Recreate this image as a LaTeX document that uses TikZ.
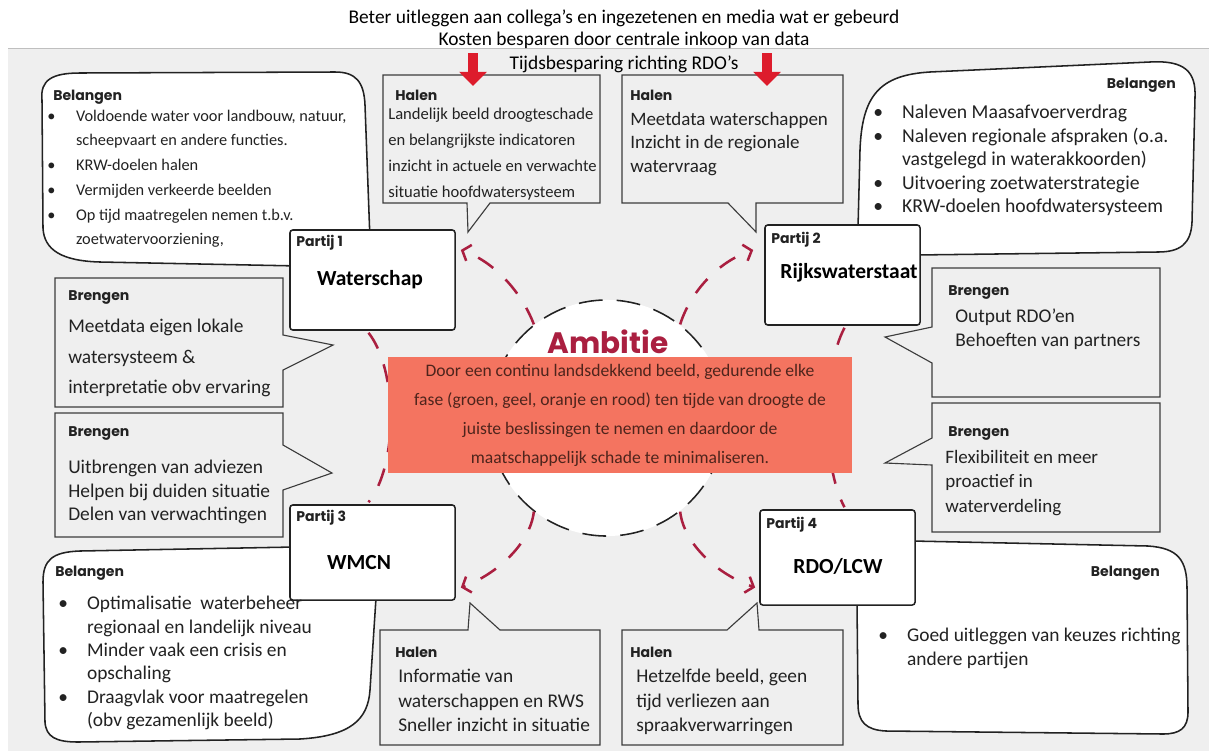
\documentclass[tikz,border=0pt]{standalone}
\usepackage{fontspec}
\setmainfont{Carlito}
\newfontfamily\handfont{Poppins}
\usetikzlibrary{arrows.meta,calc}
\definecolor{paper}{HTML}{EFEFEF}
\definecolor{ink}{HTML}{222222}
\definecolor{frame}{HTML}{3C3C3C}
\definecolor{wine}{HTML}{AA1F40}
\definecolor{signal}{HTML}{DD1C2C}
\definecolor{coral}{HTML}{F47460}
\definecolor{umber}{HTML}{4E241C}
\newcommand{\sz}[2]{\fontsize{#1}{#2}\selectfont}
\newcommand{\bl}{\makebox[0.72cm][l]{\textbullet}}
\newcommand{\ind}{\hspace*{0.72cm}}
\tikzset{party/.style = {draw = ink, fill = white, line width = 1.1pt, rounded corners = 2pt, inner sep = 0}}
\tikzset{blob/.style = {draw = ink, fill = white, line width = 1.1pt}}
\tikzset{callout/.style = {draw = frame, fill = paper, line width = 0.8pt}}
\tikzset{txt/.style = {inner sep = 0, anchor = north west, align = left, text = ink}}
\tikzset{hand/.style = {inner sep = 0, anchor = west, text = ink, font = \handfont\bfseries\sz{10}{12}}}
\tikzset{title/.style = {inner sep = 0, text = black, font = \bfseries\sz{15.3}{17}}}
\tikzset{link/.style = {draw = wine, line width = 1.8pt, dash pattern = on 13pt off 12pt, -{Straight Barb[length=5pt,width=12pt]}}}
\tikzset{ring/.style = {draw = wine, line width = 1.8pt, dash pattern = on 13pt off 12pt}}
\tikzset{push/.style = {draw = signal, line width = 6.5pt, -{Triangle[width=19pt,length=10pt]}}}

\begin{document}
\begin{tikzpicture}[x=0.025cm, y=-0.025cm]
\useasboundingbox (0,0) rectangle (1209,751);
\fill[paper] (8,48) rectangle (1209,751);
\draw[black!25, line width=0.6pt] (8,48) -- (1209,48);

\node[font=\sz{13.8}{16}] (t1) at (624,18) {Beter uitleggen aan collega's en ingezetenen en media wat er gebeurd};
\node[font=\sz{13.8}{16}] (t2) at (624,40) {Kosten besparen door centrale inkoop van data};
\node[font=\sz{13.8}{16}] (t3) at (624,64) {Tijdsbesparing richting RDO's};

\draw[blob] (42,100) .. controls (40,80) and (52,73) .. (80,73) -- (335,72) .. controls (356,72) and (364,82) .. (365,105) -- (370,240) -- (300,266) -- (100,262) .. controls (62,261) and (44,250) .. (43,228) -- cycle;
\draw[blob] (858,228) -- (860,150) .. controls (862,95) and (880,75) .. (930,72) -- (1150,62) .. controls (1185,60) and (1196,72) .. (1195,97) -- (1192,222) .. controls (1191,244) and (1180,252) .. (1158,252) -- (915,255) -- (900,240) -- cycle;
\draw[blob] (295,547) -- (80,551) .. controls (52,552) and (43,560) .. (43,582) -- (45,722) .. controls (46,737) and (56,742) .. (78,742) -- (300,739) .. controls (350,736) and (368,720) .. (370,690) -- (376,598) -- (300,590) -- cycle;
\draw[blob] (912,541) -- (1148,546) .. controls (1178,548) and (1187,560) .. (1187,588) -- (1188,712) .. controls (1188,728) and (1180,734) .. (1163,734) -- (886,731) .. controls (866,730) and (858,722) .. (858,704) -- (857,602) -- (900,590) -- cycle;

\draw[callout] (383,75) -- (600,75) -- (600,203) -- (490,203) -- (468,232) -- (467,203) -- (383,203) -- cycle;
\draw[callout] (622,75) -- (843,75) -- (843,203) -- (756,203) -- (756,232) -- (728,203) -- (622,203) -- cycle;
\draw[callout] (55,278) -- (283,278) -- (283,335) -- (333,345) -- (283,370) -- (283,407) -- (55,407) -- cycle;
\draw[callout] (55,413) -- (283,413) -- (283,445) -- (332,473) -- (283,490) -- (283,537) -- (55,537) -- cycle;
\draw[callout] (932,268) -- (1160,268) -- (1160,397) -- (932,397) -- (932,363) -- (885,337) -- (932,327) -- cycle;
\draw[callout] (932,403) -- (1160,403) -- (1160,532) -- (932,532) -- (932,465) -- (885,463) -- (932,438) -- cycle;
\draw[callout] (380,630) -- (468,630) -- (470,603) -- (500,630) -- (600,630) -- (600,745) -- (380,745) -- cycle;
\draw[callout] (622,630) -- (727,630) -- (757,603) -- (759,630) -- (843,630) -- (843,745) -- (622,745) -- cycle;

\coordinate (d1) at (473,86);
\coordinate (d2) at (767,86);

\node[party, minimum width=4.125cm, minimum height=2.5cm] (p1) at (372.5,280) {};
\node[party, minimum width=3.875cm, minimum height=2.5cm] (p2) at (842.5,275) {};
\node[party, minimum width=4.125cm, minimum height=2.375cm] (p3) at (372.5,552.5) {};
\node[party, minimum width=3.875cm, minimum height=2.375cm] (p4) at (837.5,557.5) {};

\draw[ring] ($(p1.south)+(-4,2)$) .. controls (398,370) and (398,466) .. ($(p3.north)+(-4,-2)$);
\draw[ring] ($(p2.south)+(2,2)$) .. controls (822,370) and (822,466) .. ($(p4.north)+(7,-2)$);

\node[hand] (l1) at (296,243) {Partij 1};
\node[hand] (l2) at (771,240) {Partij 2};
\node[hand] (l3) at (296,518) {Partij 3};
\node[hand] (l4) at (766,525) {Partij 4};
\node[title] (n1) at (370,280) {Waterschap};
\node[title] (n2) at (849,273) {Rijkswaterstaat};
\node[title] (n3) at (359,563) {WMCN};
\node[title] (n4) at (838,566) {RDO/LCW};

\node[circle, draw=ink, fill=white, line width=1.1pt, dash pattern=on 17pt off 10pt, minimum size=5.9cm] (amb) at (607,418) {};

\draw[link] (amb.128) .. controls (522,293) and (495,262) .. ($(p1.east)+(5,-30)$);
\draw[link] (amb.52) .. controls (690,293) and (717,262) .. ($(p2.west)+(-11,-25)$);
\draw[link] (amb.232) .. controls (530,545) and (495,575) .. ($(p3.east)+(5,35)$);
\draw[link] (amb.308) .. controls (684,545) and (719,575) .. ($(p4.west)+(-4,30)$);

\node[text=wine, inner sep=0, font=\handfont\bfseries\sz{21}{25}] (amt) at (608,342) {Ambitie};
\node[fill=coral, minimum width=11.6cm, minimum height=2.9cm, inner sep=0, align=center, text=umber, font=\sz{12.5}{20.6}] (goal) at (620,415) {Door een continu landsdekkend beeld, gedurende elke\\fase (groen, geel, oranje en rood) ten tijde van droogte de\\juiste beslissingen te nemen en daardoor de\\maatschappelijk schade te minimaliseren.};

\node[hand] (k1) at (53,97) {Belangen};
\node[txt, font=\sz{11.6}{17.6}] (b1) at (47,109.5) {\bl Voldoende water voor landbouw, natuur,\\\ind scheepvaart en andere functies.\\\bl KRW-doelen halen\\\bl Vermijden verkeerde beelden\\\bl Op tijd maatregelen nemen t.b.v.\\\ind zoetwatervoorziening,};
\node[hand, anchor=east] (k2) at (1176,85) {Belangen};
\node[txt, font=\sz{14}{16.7}] (b2) at (873,105) {\bl Naleven Maasafvoerverdrag\\\bl Naleven regionale afspraken (o.a.\\\ind vastgelegd in waterakkoorden)\\\bl Uitvoering zoetwaterstrategie\\\bl KRW-doelen hoofdwatersysteem};
\node[hand] (k3) at (55,573) {Belangen};
\node[txt, font=\sz{13.8}{16.6}] (b3) at (58,596) {\bl Optimalisatie\ \ waterbeheer\\\ind regionaal en landelijk niveau\\\bl Minder vaak een crisis en\\\ind opschaling\\\bl Draagvlak voor maatregelen\\\ind (obv gezamenlijk beeld)};
\node[hand, anchor=east] (k4) at (1160,573) {Belangen};
\node[txt, font=\sz{13.8}{17}] (b4) at (878,628) {\bl Goed uitleggen van keuzes richting\\\ind andere partijen};

\node[hand] (r1) at (68,297) {Brengen};
\node[txt, font=\sz{13.8}{21.7}] (g1) at (68,319) {Meetdata eigen lokale\\watersysteem \&\\interpretatie obv ervaring};
\node[hand] (r2) at (68,433) {Brengen};
\node[txt, font=\sz{13.8}{16.7}] (g2) at (68,460) {Uitbrengen van adviezen\\Helpen bij duiden situatie\\Delen van verwachtingen};
\node[hand] (r3) at (948,292) {Brengen};
\node[txt, font=\sz{13.8}{16.4}] (g3) at (955,309) {Output RDO'en\\Behoeften van partners};
\node[hand] (r4) at (948,433) {Brengen};
\node[txt, font=\sz{13.5}{17.4}] (g4) at (945,450) {Flexibiliteit en meer\\proactief in\\waterverdeling};

\node[hand] (h1) at (395,95) {Halen};
\node[txt, font=\sz{11.8}{18.3}] (f1) at (388,108) {Landelijk beeld droogteschade\\en belangrijkste indicatoren\\inzicht in actuele en verwachte\\situatie hoofdwatersysteem};
\node[hand] (h2) at (630,95) {Halen};
\node[txt, font=\sz{13.5}{16.7}] (f2) at (630,112) {Meetdata waterschappen\\Inzicht in de regionale\\watervraag};
\node[hand] (h3) at (395,652) {Halen};
\node[txt, font=\sz{13.8}{17.4}] (f3) at (398,669) {Informatie van\\waterschappen en RWS\\Sneller inzicht in situatie};
\node[hand] (h4) at (630,652) {Halen};
\node[txt, font=\sz{13.8}{17.4}] (f4) at (636,669) {Hetzelfde beeld, geen\\tijd verliezen aan\\spraakverwarringen};

\draw[push] (t2.south -| d1) -- (d1);
\draw[push] (t2.south -| d2) -- (d2);
\end{tikzpicture}
\end{document}
